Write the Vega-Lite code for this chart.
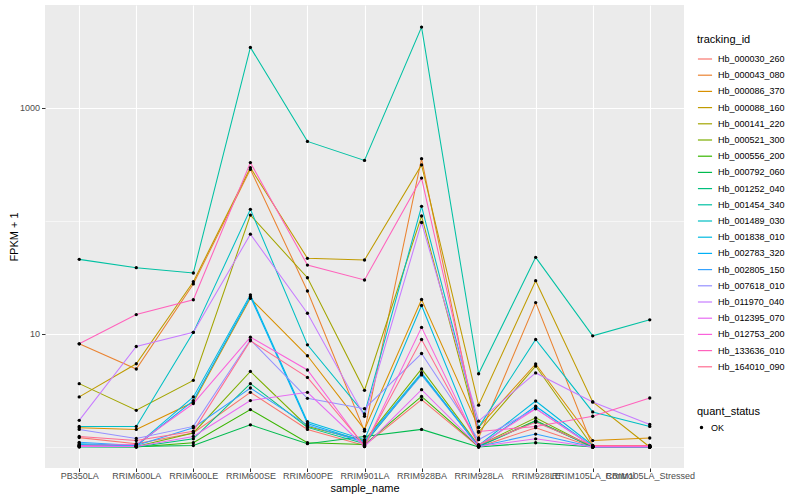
{
  "$schema": "https://vega.github.io/schema/vega-lite/v6.json",
  "width": 639,
  "height": 463,
  "autosize": {"type": "none"},
  "padding": {"left": 45, "top": 5, "right": 116, "bottom": 32},
  "background": "white",
  "datasets": {
    "expr": [
      {"tracking_id":"Hb_000030_260","sample_name":"PB350LA","fpkm1":1.21},
      {"tracking_id":"Hb_000030_260","sample_name":"RRIM600LA","fpkm1":1.07},
      {"tracking_id":"Hb_000030_260","sample_name":"RRIM600LE","fpkm1":1.33},
      {"tracking_id":"Hb_000030_260","sample_name":"RRIM600SE","fpkm1":3.04},
      {"tracking_id":"Hb_000030_260","sample_name":"RRIM600PE","fpkm1":1.43},
      {"tracking_id":"Hb_000030_260","sample_name":"RRIM901LA","fpkm1":1.03},
      {"tracking_id":"Hb_000030_260","sample_name":"RRIM928BA","fpkm1":2.62},
      {"tracking_id":"Hb_000030_260","sample_name":"RRIM928LA","fpkm1":1.0},
      {"tracking_id":"Hb_000030_260","sample_name":"RRIM928LE","fpkm1":1.48},
      {"tracking_id":"Hb_000030_260","sample_name":"RRIM105LA_Control","fpkm1":1.0},
      {"tracking_id":"Hb_000030_260","sample_name":"RRIM105LA_Stressed","fpkm1":1.0},
      {"tracking_id":"Hb_000043_080","sample_name":"PB350LA","fpkm1":8.16},
      {"tracking_id":"Hb_000043_080","sample_name":"RRIM600LA","fpkm1":4.89},
      {"tracking_id":"Hb_000043_080","sample_name":"RRIM600LE","fpkm1":27.6},
      {"tracking_id":"Hb_000043_080","sample_name":"RRIM600SE","fpkm1":284},
      {"tracking_id":"Hb_000043_080","sample_name":"RRIM600PE","fpkm1":23.9},
      {"tracking_id":"Hb_000043_080","sample_name":"RRIM901LA","fpkm1":1.38},
      {"tracking_id":"Hb_000043_080","sample_name":"RRIM928BA","fpkm1":353},
      {"tracking_id":"Hb_000043_080","sample_name":"RRIM928LA","fpkm1":1.2},
      {"tracking_id":"Hb_000043_080","sample_name":"RRIM928LE","fpkm1":18.9},
      {"tracking_id":"Hb_000043_080","sample_name":"RRIM105LA_Control","fpkm1":1.01},
      {"tracking_id":"Hb_000043_080","sample_name":"RRIM105LA_Stressed","fpkm1":1.01},
      {"tracking_id":"Hb_000086_370","sample_name":"PB350LA","fpkm1":1.48},
      {"tracking_id":"Hb_000086_370","sample_name":"RRIM600LA","fpkm1":1.43},
      {"tracking_id":"Hb_000086_370","sample_name":"RRIM600LE","fpkm1":2.48},
      {"tracking_id":"Hb_000086_370","sample_name":"RRIM600SE","fpkm1":20.6},
      {"tracking_id":"Hb_000086_370","sample_name":"RRIM600PE","fpkm1":6.4},
      {"tracking_id":"Hb_000086_370","sample_name":"RRIM901LA","fpkm1":1.43},
      {"tracking_id":"Hb_000086_370","sample_name":"RRIM928BA","fpkm1":20.1},
      {"tracking_id":"Hb_000086_370","sample_name":"RRIM928LA","fpkm1":1.49},
      {"tracking_id":"Hb_000086_370","sample_name":"RRIM928LE","fpkm1":5.41},
      {"tracking_id":"Hb_000086_370","sample_name":"RRIM105LA_Control","fpkm1":1.14},
      {"tracking_id":"Hb_000086_370","sample_name":"RRIM105LA_Stressed","fpkm1":1.2},
      {"tracking_id":"Hb_000088_160","sample_name":"PB350LA","fpkm1":2.77},
      {"tracking_id":"Hb_000088_160","sample_name":"RRIM600LA","fpkm1":5.44},
      {"tracking_id":"Hb_000088_160","sample_name":"RRIM600LE","fpkm1":28.9},
      {"tracking_id":"Hb_000088_160","sample_name":"RRIM600SE","fpkm1":294},
      {"tracking_id":"Hb_000088_160","sample_name":"RRIM600PE","fpkm1":46.5},
      {"tracking_id":"Hb_000088_160","sample_name":"RRIM901LA","fpkm1":44.9},
      {"tracking_id":"Hb_000088_160","sample_name":"RRIM928BA","fpkm1":311},
      {"tracking_id":"Hb_000088_160","sample_name":"RRIM928LA","fpkm1":2.34},
      {"tracking_id":"Hb_000088_160","sample_name":"RRIM928LE","fpkm1":29.5},
      {"tracking_id":"Hb_000088_160","sample_name":"RRIM105LA_Control","fpkm1":2.5},
      {"tracking_id":"Hb_000088_160","sample_name":"RRIM105LA_Stressed","fpkm1":1.0},
      {"tracking_id":"Hb_000141_220","sample_name":"PB350LA","fpkm1":3.63},
      {"tracking_id":"Hb_000141_220","sample_name":"RRIM600LA","fpkm1":2.11},
      {"tracking_id":"Hb_000141_220","sample_name":"RRIM600LE","fpkm1":3.88},
      {"tracking_id":"Hb_000141_220","sample_name":"RRIM600SE","fpkm1":112},
      {"tracking_id":"Hb_000141_220","sample_name":"RRIM600PE","fpkm1":31.3},
      {"tracking_id":"Hb_000141_220","sample_name":"RRIM901LA","fpkm1":3.17},
      {"tracking_id":"Hb_000141_220","sample_name":"RRIM928BA","fpkm1":110},
      {"tracking_id":"Hb_000141_220","sample_name":"RRIM928LA","fpkm1":1.35},
      {"tracking_id":"Hb_000141_220","sample_name":"RRIM928LE","fpkm1":5.19},
      {"tracking_id":"Hb_000141_220","sample_name":"RRIM105LA_Control","fpkm1":1.01},
      {"tracking_id":"Hb_000141_220","sample_name":"RRIM105LA_Stressed","fpkm1":1.01},
      {"tracking_id":"Hb_000521_300","sample_name":"PB350LA","fpkm1":1.03},
      {"tracking_id":"Hb_000521_300","sample_name":"RRIM600LA","fpkm1":1.01},
      {"tracking_id":"Hb_000521_300","sample_name":"RRIM600LE","fpkm1":1.33},
      {"tracking_id":"Hb_000521_300","sample_name":"RRIM600SE","fpkm1":4.65},
      {"tracking_id":"Hb_000521_300","sample_name":"RRIM600PE","fpkm1":1.52},
      {"tracking_id":"Hb_000521_300","sample_name":"RRIM901LA","fpkm1":1.14},
      {"tracking_id":"Hb_000521_300","sample_name":"RRIM928BA","fpkm1":4.89},
      {"tracking_id":"Hb_000521_300","sample_name":"RRIM928LA","fpkm1":1.03},
      {"tracking_id":"Hb_000521_300","sample_name":"RRIM928LE","fpkm1":1.81},
      {"tracking_id":"Hb_000521_300","sample_name":"RRIM105LA_Control","fpkm1":1.0},
      {"tracking_id":"Hb_000521_300","sample_name":"RRIM105LA_Stressed","fpkm1":1.0},
      {"tracking_id":"Hb_000556_200","sample_name":"PB350LA","fpkm1":1.01},
      {"tracking_id":"Hb_000556_200","sample_name":"RRIM600LA","fpkm1":1.0},
      {"tracking_id":"Hb_000556_200","sample_name":"RRIM600LE","fpkm1":1.09},
      {"tracking_id":"Hb_000556_200","sample_name":"RRIM600SE","fpkm1":2.14},
      {"tracking_id":"Hb_000556_200","sample_name":"RRIM600PE","fpkm1":1.09},
      {"tracking_id":"Hb_000556_200","sample_name":"RRIM901LA","fpkm1":1.05},
      {"tracking_id":"Hb_000556_200","sample_name":"RRIM928BA","fpkm1":2.8},
      {"tracking_id":"Hb_000556_200","sample_name":"RRIM928LA","fpkm1":1.01},
      {"tracking_id":"Hb_000556_200","sample_name":"RRIM928LE","fpkm1":1.71},
      {"tracking_id":"Hb_000556_200","sample_name":"RRIM105LA_Control","fpkm1":1.0},
      {"tracking_id":"Hb_000556_200","sample_name":"RRIM105LA_Stressed","fpkm1":1.0},
      {"tracking_id":"Hb_000792_060","sample_name":"PB350LA","fpkm1":1.02},
      {"tracking_id":"Hb_000792_060","sample_name":"RRIM600LA","fpkm1":1.01},
      {"tracking_id":"Hb_000792_060","sample_name":"RRIM600LE","fpkm1":1.03},
      {"tracking_id":"Hb_000792_060","sample_name":"RRIM600SE","fpkm1":1.57},
      {"tracking_id":"Hb_000792_060","sample_name":"RRIM600PE","fpkm1":1.07},
      {"tracking_id":"Hb_000792_060","sample_name":"RRIM901LA","fpkm1":1.24},
      {"tracking_id":"Hb_000792_060","sample_name":"RRIM928BA","fpkm1":1.43},
      {"tracking_id":"Hb_000792_060","sample_name":"RRIM928LA","fpkm1":1.0},
      {"tracking_id":"Hb_000792_060","sample_name":"RRIM928LE","fpkm1":1.09},
      {"tracking_id":"Hb_000792_060","sample_name":"RRIM105LA_Control","fpkm1":1.0},
      {"tracking_id":"Hb_000792_060","sample_name":"RRIM105LA_Stressed","fpkm1":1.0},
      {"tracking_id":"Hb_001252_040","sample_name":"PB350LA","fpkm1":1.0},
      {"tracking_id":"Hb_001252_040","sample_name":"RRIM600LA","fpkm1":1.0},
      {"tracking_id":"Hb_001252_040","sample_name":"RRIM600LE","fpkm1":1.18},
      {"tracking_id":"Hb_001252_040","sample_name":"RRIM600SE","fpkm1":3.63},
      {"tracking_id":"Hb_001252_040","sample_name":"RRIM600PE","fpkm1":1.49},
      {"tracking_id":"Hb_001252_040","sample_name":"RRIM901LA","fpkm1":1.07},
      {"tracking_id":"Hb_001252_040","sample_name":"RRIM928BA","fpkm1":4.44},
      {"tracking_id":"Hb_001252_040","sample_name":"RRIM928LA","fpkm1":1.01},
      {"tracking_id":"Hb_001252_040","sample_name":"RRIM928LE","fpkm1":1.69},
      {"tracking_id":"Hb_001252_040","sample_name":"RRIM105LA_Control","fpkm1":1.0},
      {"tracking_id":"Hb_001252_040","sample_name":"RRIM105LA_Stressed","fpkm1":1.0},
      {"tracking_id":"Hb_001454_340","sample_name":"PB350LA","fpkm1":45.5},
      {"tracking_id":"Hb_001454_340","sample_name":"RRIM600LA","fpkm1":38.4},
      {"tracking_id":"Hb_001454_340","sample_name":"RRIM600LE","fpkm1":34.5},
      {"tracking_id":"Hb_001454_340","sample_name":"RRIM600SE","fpkm1":3400},
      {"tracking_id":"Hb_001454_340","sample_name":"RRIM600PE","fpkm1":502},
      {"tracking_id":"Hb_001454_340","sample_name":"RRIM901LA","fpkm1":341},
      {"tracking_id":"Hb_001454_340","sample_name":"RRIM928BA","fpkm1":5140},
      {"tracking_id":"Hb_001454_340","sample_name":"RRIM928LA","fpkm1":4.44},
      {"tracking_id":"Hb_001454_340","sample_name":"RRIM928LE","fpkm1":47.4},
      {"tracking_id":"Hb_001454_340","sample_name":"RRIM105LA_Control","fpkm1":9.6},
      {"tracking_id":"Hb_001454_340","sample_name":"RRIM105LA_Stressed","fpkm1":13.3},
      {"tracking_id":"Hb_001489_030","sample_name":"PB350LA","fpkm1":1.52},
      {"tracking_id":"Hb_001489_030","sample_name":"RRIM600LA","fpkm1":1.52},
      {"tracking_id":"Hb_001489_030","sample_name":"RRIM600LE","fpkm1":10.3},
      {"tracking_id":"Hb_001489_030","sample_name":"RRIM600SE","fpkm1":126},
      {"tracking_id":"Hb_001489_030","sample_name":"RRIM600PE","fpkm1":8.0},
      {"tracking_id":"Hb_001489_030","sample_name":"RRIM901LA","fpkm1":1.96},
      {"tracking_id":"Hb_001489_030","sample_name":"RRIM928BA","fpkm1":134},
      {"tracking_id":"Hb_001489_030","sample_name":"RRIM928LA","fpkm1":1.49},
      {"tracking_id":"Hb_001489_030","sample_name":"RRIM928LE","fpkm1":8.91},
      {"tracking_id":"Hb_001489_030","sample_name":"RRIM105LA_Control","fpkm1":2.04},
      {"tracking_id":"Hb_001489_030","sample_name":"RRIM105LA_Stressed","fpkm1":1.52},
      {"tracking_id":"Hb_001838_010","sample_name":"PB350LA","fpkm1":1.07},
      {"tracking_id":"Hb_001838_010","sample_name":"RRIM600LA","fpkm1":1.03},
      {"tracking_id":"Hb_001838_010","sample_name":"RRIM600LE","fpkm1":2.77},
      {"tracking_id":"Hb_001838_010","sample_name":"RRIM600SE","fpkm1":22.1},
      {"tracking_id":"Hb_001838_010","sample_name":"RRIM600PE","fpkm1":1.67},
      {"tracking_id":"Hb_001838_010","sample_name":"RRIM901LA","fpkm1":1.16},
      {"tracking_id":"Hb_001838_010","sample_name":"RRIM928BA","fpkm1":17.8},
      {"tracking_id":"Hb_001838_010","sample_name":"RRIM928LA","fpkm1":1.03},
      {"tracking_id":"Hb_001838_010","sample_name":"RRIM928LE","fpkm1":2.55},
      {"tracking_id":"Hb_001838_010","sample_name":"RRIM105LA_Control","fpkm1":1.03},
      {"tracking_id":"Hb_001838_010","sample_name":"RRIM105LA_Stressed","fpkm1":1.03},
      {"tracking_id":"Hb_002783_320","sample_name":"PB350LA","fpkm1":1.05},
      {"tracking_id":"Hb_002783_320","sample_name":"RRIM600LA","fpkm1":1.02},
      {"tracking_id":"Hb_002783_320","sample_name":"RRIM600LE","fpkm1":2.57},
      {"tracking_id":"Hb_002783_320","sample_name":"RRIM600SE","fpkm1":21.3},
      {"tracking_id":"Hb_002783_320","sample_name":"RRIM600PE","fpkm1":1.61},
      {"tracking_id":"Hb_002783_320","sample_name":"RRIM901LA","fpkm1":1.12},
      {"tracking_id":"Hb_002783_320","sample_name":"RRIM928BA","fpkm1":4.53},
      {"tracking_id":"Hb_002783_320","sample_name":"RRIM928LA","fpkm1":1.01},
      {"tracking_id":"Hb_002783_320","sample_name":"RRIM928LE","fpkm1":2.29},
      {"tracking_id":"Hb_002783_320","sample_name":"RRIM105LA_Control","fpkm1":1.01},
      {"tracking_id":"Hb_002783_320","sample_name":"RRIM105LA_Stressed","fpkm1":1.01},
      {"tracking_id":"Hb_002805_150","sample_name":"PB350LA","fpkm1":1.1},
      {"tracking_id":"Hb_002805_150","sample_name":"RRIM600LA","fpkm1":1.03},
      {"tracking_id":"Hb_002805_150","sample_name":"RRIM600LE","fpkm1":1.48},
      {"tracking_id":"Hb_002805_150","sample_name":"RRIM600SE","fpkm1":3.32},
      {"tracking_id":"Hb_002805_150","sample_name":"RRIM600PE","fpkm1":1.56},
      {"tracking_id":"Hb_002805_150","sample_name":"RRIM901LA","fpkm1":1.1},
      {"tracking_id":"Hb_002805_150","sample_name":"RRIM928BA","fpkm1":4.33},
      {"tracking_id":"Hb_002805_150","sample_name":"RRIM928LA","fpkm1":1.01},
      {"tracking_id":"Hb_002805_150","sample_name":"RRIM928LE","fpkm1":1.3},
      {"tracking_id":"Hb_002805_150","sample_name":"RRIM105LA_Control","fpkm1":1.0},
      {"tracking_id":"Hb_002805_150","sample_name":"RRIM105LA_Stressed","fpkm1":1.0},
      {"tracking_id":"Hb_007618_010","sample_name":"PB350LA","fpkm1":1.43},
      {"tracking_id":"Hb_007618_010","sample_name":"RRIM600LA","fpkm1":1.19},
      {"tracking_id":"Hb_007618_010","sample_name":"RRIM600LE","fpkm1":1.52},
      {"tracking_id":"Hb_007618_010","sample_name":"RRIM600SE","fpkm1":8.85},
      {"tracking_id":"Hb_007618_010","sample_name":"RRIM600PE","fpkm1":2.69},
      {"tracking_id":"Hb_007618_010","sample_name":"RRIM901LA","fpkm1":2.18},
      {"tracking_id":"Hb_007618_010","sample_name":"RRIM928BA","fpkm1":6.7},
      {"tracking_id":"Hb_007618_010","sample_name":"RRIM928LA","fpkm1":1.16},
      {"tracking_id":"Hb_007618_010","sample_name":"RRIM928LE","fpkm1":2.18},
      {"tracking_id":"Hb_007618_010","sample_name":"RRIM105LA_Control","fpkm1":1.01},
      {"tracking_id":"Hb_007618_010","sample_name":"RRIM105LA_Stressed","fpkm1":1.01},
      {"tracking_id":"Hb_011970_040","sample_name":"PB350LA","fpkm1":1.72},
      {"tracking_id":"Hb_011970_040","sample_name":"RRIM600LA","fpkm1":7.73},
      {"tracking_id":"Hb_011970_040","sample_name":"RRIM600LE","fpkm1":10.3},
      {"tracking_id":"Hb_011970_040","sample_name":"RRIM600SE","fpkm1":76.0},
      {"tracking_id":"Hb_011970_040","sample_name":"RRIM600PE","fpkm1":15.2},
      {"tracking_id":"Hb_011970_040","sample_name":"RRIM901LA","fpkm1":1.87},
      {"tracking_id":"Hb_011970_040","sample_name":"RRIM928BA","fpkm1":96.4},
      {"tracking_id":"Hb_011970_040","sample_name":"RRIM928LA","fpkm1":1.69},
      {"tracking_id":"Hb_011970_040","sample_name":"RRIM928LE","fpkm1":4.51},
      {"tracking_id":"Hb_011970_040","sample_name":"RRIM105LA_Control","fpkm1":2.5},
      {"tracking_id":"Hb_011970_040","sample_name":"RRIM105LA_Stressed","fpkm1":1.58},
      {"tracking_id":"Hb_012395_070","sample_name":"PB350LA","fpkm1":1.01},
      {"tracking_id":"Hb_012395_070","sample_name":"RRIM600LA","fpkm1":1.01},
      {"tracking_id":"Hb_012395_070","sample_name":"RRIM600LE","fpkm1":1.24},
      {"tracking_id":"Hb_012395_070","sample_name":"RRIM600SE","fpkm1":2.57},
      {"tracking_id":"Hb_012395_070","sample_name":"RRIM600PE","fpkm1":3.04},
      {"tracking_id":"Hb_012395_070","sample_name":"RRIM901LA","fpkm1":1.01},
      {"tracking_id":"Hb_012395_070","sample_name":"RRIM928BA","fpkm1":3.21},
      {"tracking_id":"Hb_012395_070","sample_name":"RRIM928LA","fpkm1":1.01},
      {"tracking_id":"Hb_012395_070","sample_name":"RRIM928LE","fpkm1":1.18},
      {"tracking_id":"Hb_012395_070","sample_name":"RRIM105LA_Control","fpkm1":1.0},
      {"tracking_id":"Hb_012395_070","sample_name":"RRIM105LA_Stressed","fpkm1":1.0},
      {"tracking_id":"Hb_012753_200","sample_name":"PB350LA","fpkm1":1.03},
      {"tracking_id":"Hb_012753_200","sample_name":"RRIM600LA","fpkm1":1.05},
      {"tracking_id":"Hb_012753_200","sample_name":"RRIM600LE","fpkm1":2.42},
      {"tracking_id":"Hb_012753_200","sample_name":"RRIM600SE","fpkm1":9.35},
      {"tracking_id":"Hb_012753_200","sample_name":"RRIM600PE","fpkm1":4.79},
      {"tracking_id":"Hb_012753_200","sample_name":"RRIM901LA","fpkm1":1.01},
      {"tracking_id":"Hb_012753_200","sample_name":"RRIM928BA","fpkm1":11.4},
      {"tracking_id":"Hb_012753_200","sample_name":"RRIM928LA","fpkm1":1.03},
      {"tracking_id":"Hb_012753_200","sample_name":"RRIM928LE","fpkm1":2.18},
      {"tracking_id":"Hb_012753_200","sample_name":"RRIM105LA_Control","fpkm1":1.01},
      {"tracking_id":"Hb_012753_200","sample_name":"RRIM105LA_Stressed","fpkm1":1.01},
      {"tracking_id":"Hb_133636_010","sample_name":"PB350LA","fpkm1":8.16},
      {"tracking_id":"Hb_133636_010","sample_name":"RRIM600LA","fpkm1":14.8},
      {"tracking_id":"Hb_133636_010","sample_name":"RRIM600LE","fpkm1":20.0},
      {"tracking_id":"Hb_133636_010","sample_name":"RRIM600SE","fpkm1":326},
      {"tracking_id":"Hb_133636_010","sample_name":"RRIM600PE","fpkm1":40.5},
      {"tracking_id":"Hb_133636_010","sample_name":"RRIM901LA","fpkm1":29.9},
      {"tracking_id":"Hb_133636_010","sample_name":"RRIM928BA","fpkm1":238},
      {"tracking_id":"Hb_133636_010","sample_name":"RRIM928LA","fpkm1":1.37},
      {"tracking_id":"Hb_133636_010","sample_name":"RRIM928LE","fpkm1":1.52},
      {"tracking_id":"Hb_133636_010","sample_name":"RRIM105LA_Control","fpkm1":1.87},
      {"tracking_id":"Hb_133636_010","sample_name":"RRIM105LA_Stressed","fpkm1":2.71},
      {"tracking_id":"Hb_164010_090","sample_name":"PB350LA","fpkm1":1.24},
      {"tracking_id":"Hb_164010_090","sample_name":"RRIM600LA","fpkm1":1.14},
      {"tracking_id":"Hb_164010_090","sample_name":"RRIM600LE","fpkm1":1.38},
      {"tracking_id":"Hb_164010_090","sample_name":"RRIM600SE","fpkm1":8.68},
      {"tracking_id":"Hb_164010_090","sample_name":"RRIM600PE","fpkm1":4.12},
      {"tracking_id":"Hb_164010_090","sample_name":"RRIM901LA","fpkm1":1.03},
      {"tracking_id":"Hb_164010_090","sample_name":"RRIM928BA","fpkm1":8.91},
      {"tracking_id":"Hb_164010_090","sample_name":"RRIM928LA","fpkm1":1.05},
      {"tracking_id":"Hb_164010_090","sample_name":"RRIM928LE","fpkm1":1.65},
      {"tracking_id":"Hb_164010_090","sample_name":"RRIM105LA_Control","fpkm1":1.03},
      {"tracking_id":"Hb_164010_090","sample_name":"RRIM105LA_Stressed","fpkm1":1.03}
    ]
  },
  "data": {"name": "expr"},
  "encoding": {
    "x": {
      "field": "sample_name",
      "type": "nominal",
      "sort": ["PB350LA","RRIM600LA","RRIM600LE","RRIM600SE","RRIM600PE","RRIM901LA","RRIM928BA","RRIM928LA","RRIM928LE","RRIM105LA_Control","RRIM105LA_Stressed"],
      "scale": {"type": "point", "padding": 0.6},
      "axis": {"title": "sample_name", "labelAngle": 0, "labelOverlap": false, "labelFlush": false, "labelPadding": 0, "titlePadding": 2}
    },
    "y": {
      "field": "fpkm1",
      "type": "quantitative",
      "scale": {"type": "log", "domain": [0.652, 8054], "nice": false, "zero": false},
      "axis": {
        "title": "FPKM + 1",
        "values": [1, 10, 100, 1000],
        "format": "d",
        "labelExpr": "datum.value == 10 || datum.value == 1000 ? datum.label : ''",
        "gridWidth": {"condition": {"test": "datum.value == 10 || datum.value == 1000", "value": 1.1}, "value": 0.55},
        "tickOpacity": {"condition": {"test": "datum.value == 10 || datum.value == 1000", "value": 1}, "value": 0},
        "titlePadding": 0
      }
    }
  },
  "layer": [
    {
      "mark": {"type": "line", "strokeWidth": 1.05},
      "encoding": {
        "color": {
          "field": "tracking_id",
          "type": "nominal",
          "scale": {"range": ["#F8766D","#EA8331","#D89000","#C09B00","#A3A500","#7CAE00","#39B600","#00BB4E","#00BF7D","#00C1A3","#00BFC4","#00BAE0","#00B0F6","#35A2FF","#9590FF","#C77CFF","#E76BF3","#FA62DB","#FF62BC","#FF6C91"]},
          "legend": {
            "title": "tracking_id",
            "orient": "none",
            "legendX": 652,
            "legendY": 29,
            "symbolType": "stroke",
            "symbolSize": 200,
            "symbolStrokeWidth": 1.2,
            "rowPadding": 3.2,
            "labelFontSize": 9,
            "titleFontSize": 11,
            "titleFontWeight": "normal",
            "titlePadding": 6,
            "labelOffset": 5
          }
        },
        "order": {"value": null}
      }
    },
    {
      "mark": {"type": "point", "filled": true, "size": 11, "color": "black", "opacity": 1},
      "encoding": {
        "shape": {
          "datum": "OK",
          "type": "nominal",
          "scale": {"range": ["circle"]},
          "legend": {
            "title": "quant_status",
            "orient": "none",
            "legendX": 652,
            "legendY": 401,
            "symbolFillColor": "black",
            "symbolStrokeColor": "black",
            "symbolSize": 12,
            "labelFontSize": 9,
            "titleFontSize": 11,
            "titleFontWeight": "normal",
            "titlePadding": 6,
            "labelOffset": 5
          }
        }
      }
    }
  ],
  "config": {
    "font": "Liberation Sans",
    "view": {"fill": "#EBEBEB", "stroke": null},
    "axis": {
      "domain": false,
      "grid": true,
      "gridColor": "#FFFFFF",
      "gridWidth": 1.1,
      "tickColor": "#333333",
      "tickSize": 3.5,
      "tickWidth": 1,
      "labelColor": "#4D4D4D",
      "labelFontSize": 9,
      "labelPadding": 2,
      "titleFontSize": 11,
      "titleFontWeight": "normal",
      "titleColor": "#000000"
    },
    "legend": {"titleColor": "#000000", "labelColor": "#000000"}
  }
}
